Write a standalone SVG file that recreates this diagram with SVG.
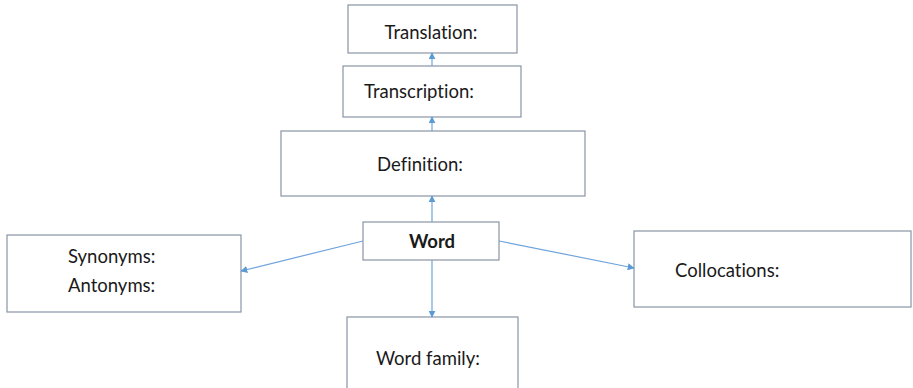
<svg xmlns="http://www.w3.org/2000/svg" width="913" height="388" viewBox="0 0 913 388">
<style>
.box{fill:#fff;stroke:#8a94a3;stroke-width:1.2}
.t{font-family:Lato,"Liberation Sans",sans-serif;font-size:18.5px;fill:#1a1a1a;font-variant-ligatures:none}
.c{fill:none;stroke:#6fa3dc;stroke-width:1.2}
</style>
<defs>
<marker id="a" viewBox="0 0 10 10" refX="9" refY="5" markerWidth="7" markerHeight="7" orient="auto" markerUnits="userSpaceOnUse">
<path d="M0,0 L10,5 L0,10 z" fill="#5b9bd5"/>
</marker>
</defs>
<rect width="913" height="388" fill="#fff"/>
<g id="translation"><rect class="box" x="348" y="5" width="169" height="48"/><text class="t" x="431" y="39" text-anchor="middle">Translation:</text></g>
<g id="transcription"><rect class="box" x="343" y="66" width="178" height="51"/><text class="t" x="419" y="98" text-anchor="middle">Transcription:</text></g>
<g id="definition"><rect class="box" x="281" y="131" width="304" height="65"/><text class="t" x="420" y="171" text-anchor="middle">Definition:</text></g>
<g id="word"><rect class="box" x="363" y="222" width="136" height="38"/><text class="t" x="432" y="248" text-anchor="middle" font-weight="bold">Word</text></g>
<g id="synonyms"><rect class="box" x="7" y="235" width="234" height="77"/><text class="t" x="68" y="263">Synonyms:</text><text class="t" x="68" y="292">Antonyms:</text></g>
<g id="collocations"><rect class="box" x="634" y="231" width="277" height="76"/><text class="t" x="675" y="277">Collocations:</text></g>
<g id="wordfamily"><rect class="box" x="347" y="317" width="171" height="80"/><text class="t" x="376" y="365">Word family:</text></g>
<g id="connectors">
<line class="c" x1="432" y1="222" x2="432" y2="196" marker-end="url(#a)"/>
<line class="c" x1="432" y1="131" x2="432" y2="117" marker-end="url(#a)"/>
<line class="c" x1="432" y1="66" x2="432" y2="53" marker-end="url(#a)"/>
<line class="c" x1="363" y1="241" x2="241" y2="271" marker-end="url(#a)"/>
<line class="c" x1="499" y1="241" x2="634" y2="268" marker-end="url(#a)"/>
<line class="c" x1="432" y1="260" x2="432" y2="317" marker-end="url(#a)"/>
</g>
</svg>
